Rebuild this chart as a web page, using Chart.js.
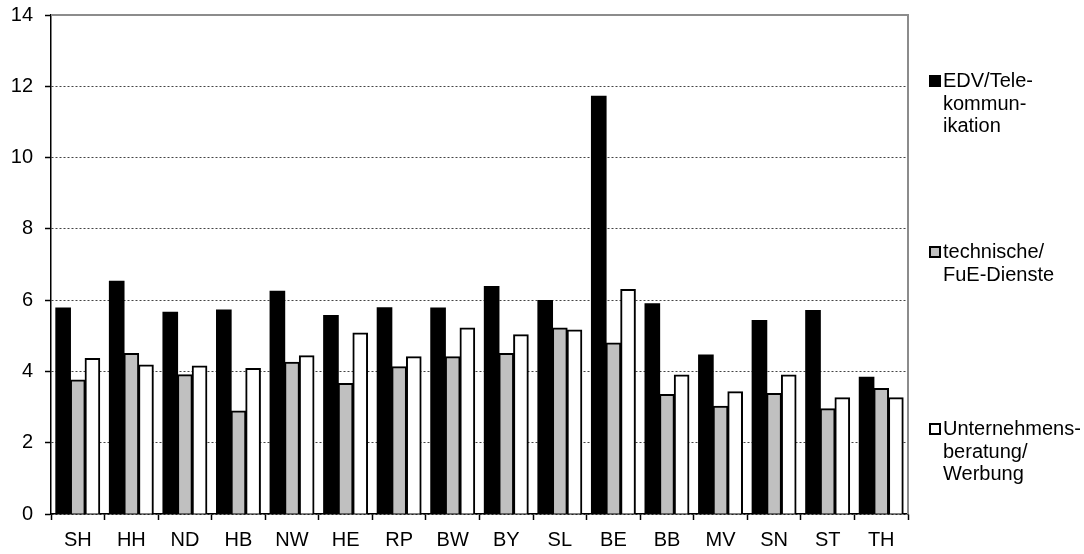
<!DOCTYPE html>
<html>
<head>
<meta charset="utf-8">
<script src="https://cdn.jsdelivr.net/npm/chart.js@4.4.1/dist/chart.umd.min.js"></script>
<style>
  html, body { margin: 0; padding: 0; background: #fff; }
  #wrap { width: 1084px; height: 554px; }
</style>
</head>
<body>
<div id="wrap"><canvas id="barChart"></canvas></div>
<script>
// Bundeslaender
const laender = ["SH", "HH", "ND", "HB", "NW", "HE", "RP", "BW", "BY", "SL", "BE", "BB", "MV", "SN", "ST", "TH"];

// values
const edvTelekom = [5.78, 6.53, 5.66, 5.72, 6.25, 5.57, 5.79, 5.78, 6.38, 5.99, 11.72, 5.90, 4.46, 5.43, 5.71, 3.84];
const technischeFuE = [3.76, 4.50, 3.91, 2.89, 4.26, 3.66, 4.13, 4.41, 4.50, 5.22, 4.80, 3.35, 3.02, 3.38, 2.95, 3.52];
const beratungWerbung = [4.36, 4.18, 4.15, 4.08, 4.44, 5.08, 4.41, 5.22, 5.03, 5.16, 6.30, 3.90, 3.43, 3.90, 3.26, 3.26];

const yTicks = [0, 2, 4, 6, 8, 10, 12, 14];

// legend text, broken like in the original
const legendLines = [
    ["EDV/Tele-", "kommun-", "ikation"],
    ["technische/", "FuE-Dienste"],
    ["Unternehmens-", "beratung/", "Werbung"]
];
const legendBaseline = [87, 258, 435];

const FONT = "'Liberation Sans', Arial, sans-serif";

const sideLegend = {
    id: "sideLegend",
    afterDraw(chart) {
        const ctx = chart.ctx;
        const area = chart.chartArea;
        const x0 = area.right + 21;
        ctx.save();
        ctx.font = "20px " + FONT;
        ctx.textBaseline = "alphabetic";
        ctx.textAlign = "left";
        chart.data.datasets.forEach((ds, i) => {
            const base = legendBaseline[i];
            ctx.fillStyle = ds.backgroundColor;
            ctx.fillRect(x0, base - 12, 12, 12);
            ctx.lineWidth = 2;
            ctx.strokeStyle = "#000";
            ctx.strokeRect(x0 + 1, base - 11, 10, 10);
            ctx.fillStyle = "#000";
            legendLines[i].forEach((t, j) => {
                ctx.fillText(t, x0 + 14, base + j * 22.5);
            });
        });
        ctx.restore();
    }
};

// grey frame top and right of the plot
const plotFrame = {
    id: "plotFrame",
    afterDatasetsDraw(chart) {
        const ctx = chart.ctx;
        const a = chart.chartArea;
        ctx.save();
        ctx.strokeStyle = "#8c8c8c";
        ctx.lineWidth = 2;
        ctx.beginPath();
        ctx.moveTo(a.left, a.top);
        ctx.lineTo(a.right, a.top);
        ctx.lineTo(a.right, a.bottom);
        ctx.stroke();
        ctx.restore();
    }
};

function series(i, values, fill, border) {
    return {
        label: legendLines[i].join(""),
        data: values,
        backgroundColor: fill,
        borderColor: "#000000",
        borderWidth: border,
        inflateAmount: 0.5,
        categoryPercentage: 0.82,
        barPercentage: 1.0
    };
}

new Chart(document.getElementById("barChart"), {
    type: "bar",
    data: {
        labels: laender,
        datasets: [
            series(0, edvTelekom, "#000000", 0),
            series(1, technischeFuE, "#c0c0c0", 2),
            series(2, beratungWerbung, "#ffffff", 2)
        ]
    },
    options: {
        responsive: true,
        maintainAspectRatio: false,
        animation: false,
        layout: { padding: { top: 15, right: 176, left: 0, bottom: 0 } },
        plugins: {
            legend: { display: false },
            tooltip: { enabled: false }
        },
        scales: {
            x: {
                grid: {
                    offset: true,
                    drawOnChartArea: false,
                    drawTicks: true,
                    tickLength: 6,
                    tickColor: "#000",
                    tickWidth: 1.5
                },
                border: { display: true, color: "#000", width: 1.5 },
                ticks: {
                    color: "#000",
                    padding: 8,
                    font: { family: FONT, size: 20 }
                },
                afterFit(scale) {
                    scale.height = 40;
                    scale.paddingLeft = 0;
                    scale.paddingRight = 0;
                }
            },
            y: {
                min: 0,
                max: 14,
                afterBuildTicks(scale) {
                    scale.ticks = yTicks.map(v => ({ value: v }));
                },
                grid: {
                    color: c => (c.tick && c.tick.value === 14 ? "rgba(0,0,0,0)" : "#444"),
                    lineWidth: 1,
                    tickLength: 6,
                    tickColor: "#000",
                    tickWidth: 1.5
                },
                border: { display: true, color: "#000", width: 1.5, dash: [2, 2] },
                ticks: {
                    color: "#000",
                    padding: 12,
                    font: { family: FONT, size: 20 }
                },
                afterFit(scale) {
                    scale.width = 51;
                    scale.paddingTop = 0;
                    scale.paddingBottom = 0;
                }
            }
        }
    },
    plugins: [plotFrame, sideLegend]
});
</script>
</body>
</html>
